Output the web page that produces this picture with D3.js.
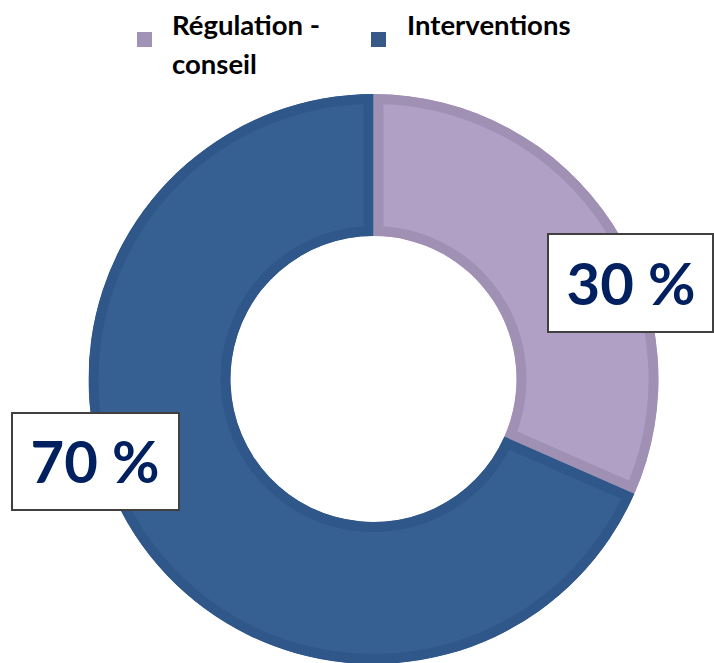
<!DOCTYPE html>
<html><head><meta charset="utf-8">
<script src="https://cdn.jsdelivr.net/npm/d3@7"></script>
<style>html,body{margin:0;padding:0;background:#fff;}svg{display:block;}</style>
</head><body>
<svg id="c" width="714" height="663"></svg>
<script>
const categories = ["Régulation - conseil", "Interventions"];
const legendLines = [["Régulation -", "conseil"], ["Interventions"]];
const values = [31.6, 68.4];
const labels = ["30 %", "70 %"];

const fills = ["#b1a0c5", "#376092"];
const borders = ["#a090b4", "#30578a"];
const legendColors = ["#a392b8", "#36598a"];

const svg = d3.select("#c");
const cx = 373.5, cy = 379, R = 285, r = 143;
const g = svg.append("g").attr("transform", `translate(${cx},${cy})`);
const pie = d3.pie().sort(null).value(d => d)(values);
const arc = d3.arc().outerRadius(R).innerRadius(r);
const defs = svg.append("defs");
pie.forEach((d, i) => {
  defs.append("clipPath").attr("id", "clip" + i)
    .append("path").attr("d", arc(d));
  g.append("path").attr("d", arc(d))
    .attr("fill", fills[i])
    .attr("stroke", borders[i])
    .attr("stroke-width", 20)
    .attr("clip-path", `url(#clip${i})`);
});

// data label boxes
const boxes = [
  {x: 548, y: 234, w: 165, h: 98, tx: 631, ty: 305},
  {x: 12, y: 413, w: 167, h: 97, tx: 95, ty: 483}
];
boxes.forEach((b, i) => {
  svg.append("rect").attr("x", b.x).attr("y", b.y).attr("width", b.w).attr("height", b.h)
    .attr("fill", "#fff").attr("stroke", "#404040").attr("stroke-width", 2);
  svg.append("text").attr("x", b.tx).attr("y", b.ty)
    .attr("text-anchor", "middle")
    .attr("font-family", "Lato, 'Open Sans', sans-serif")
    .attr("font-weight", "bold").attr("font-size", 58)
    .attr("fill", "#002060").text(labels[i]);
});

// legend
const legendPos = [{sx: 137, tx: 172}, {sx: 371, tx: 407}];
categories.forEach((c, i) => {
  const p = legendPos[i];
  svg.append("rect").attr("x", p.sx).attr("y", 32).attr("width", 15).attr("height", 15)
    .attr("fill", legendColors[i]);
  const t = svg.append("text").attr("x", p.tx).attr("y", 35)
    .attr("font-family", "Lato, 'Open Sans', sans-serif")
    .attr("font-weight", "bold").attr("font-size", 27.5).attr("fill", "#000");
  legendLines[i].forEach((ln, j) => {
    t.append("tspan").attr("x", p.tx).attr("dy", j === 0 ? 0 : 39).text(ln);
  });
});
</script>
</body></html>
